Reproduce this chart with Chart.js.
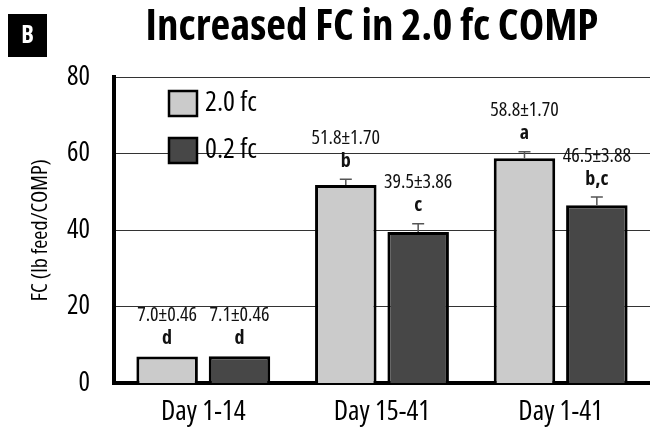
<!DOCTYPE html>
<html>
<head>
<meta charset="utf-8">
<script src="https://cdn.jsdelivr.net/npm/chart.js@4/dist/chart.umd.min.js"></script>
<style>
  html, body { margin: 0; padding: 0; background: #fff; }
  #wrap { width: 650px; height: 433px; }
</style>
</head>
<body>
<div id="wrap"><canvas id="fcChart"></canvas></div>
<script>
const periodos = ["Day 1-14", "Day 15-41", "Day 1-41"];
const fc20 = [7.0, 51.8, 58.8];
const fc02 = [7.1, 39.5, 46.5];
const sem20 = [0.46, 1.70, 1.70];
const sem02 = [0.46, 3.86, 3.88];
// error bars as they are drawn in the figure
const error20 = [0, 1.5, 1.7];
const error02 = [0, 2.2, 2.2];
const letras20 = ["d", "b", "a"];
const letras02 = ["d", "c", "b,c"];
const yTicks = [0, 20, 40, 60, 80];

const fuente = "'Open Sans', sans-serif";
const colorClaro = "#cbcbcb";
const colorOscuro = "#474747";

const sems = [sem20, sem02];
const errores = [error20, error02];
const letras = [letras20, letras02];

const anotaciones = {
  id: "anotaciones",
  afterDatasetsDraw(chart) {
    const ctx = chart.ctx;
    const y = chart.scales.y;
    chart.data.datasets.forEach((ds, i) => {
      chart.getDatasetMeta(i).data.forEach((bar, j) => {
        const err = errores[i][j];
        const yTop = y.getPixelForValue(ds.data[j] + err);
        ctx.save();
        if (err > 0) {
          ctx.strokeStyle = "#555";
          ctx.lineWidth = 1.5;
          ctx.beginPath();
          ctx.moveTo(bar.x, bar.y);
          ctx.lineTo(bar.x, yTop);
          ctx.moveTo(bar.x - 6, yTop);
          ctx.lineTo(bar.x + 6, yTop);
          ctx.stroke();
        }
        ctx.fillStyle = "#111";
        ctx.textAlign = "center";
        ctx.textBaseline = "middle";
        ctx.font = "bold condensed 20px " + fuente;
        ctx.fillText(letras[i][j], bar.x, yTop - 18);
        ctx.font = "condensed 20px " + fuente;
        ctx.fillText(ds.data[j].toFixed(1) + "\u00b1" + sems[i][j].toFixed(2), bar.x, yTop - 41);
        ctx.restore();
      });
    });
  },
  afterDraw(chart) {
    const ctx = chart.ctx;
    const area = chart.chartArea;
    ctx.save();
    // panel letter
    ctx.fillStyle = "#000";
    ctx.fillRect(8, 14, 39, 43);
    ctx.fillStyle = "#fff";
    ctx.font = "bold condensed 24px " + fuente;
    ctx.textAlign = "center";
    ctx.textBaseline = "middle";
    ctx.fillText("B", 27.5, 36);
    // title
    ctx.fillStyle = "#000";
    ctx.font = "bold condensed 43px " + fuente;
    ctx.fillText("Increased FC in 2.0 fc COMP", 372, 28);
    // y axis title
    ctx.save();
    ctx.translate(41, (area.top + area.bottom) / 2);
    ctx.rotate(-Math.PI / 2);
    ctx.font = "condensed 22px " + fuente;
    ctx.fillText("FC (lb feed/COMP)", 0, 0);
    ctx.restore();
    // legend
    const items = [["2.0 fc", colorClaro], ["0.2 fc", colorOscuro]];
    items.forEach(([txt, col], k) => {
      const by = 91 + k * 47;
      ctx.fillStyle = col;
      ctx.fillRect(169, by, 28, 25);
      ctx.strokeStyle = "#000";
      ctx.lineWidth = 2.5;
      ctx.strokeRect(169, by, 28, 25);
      ctx.fillStyle = "#000";
      ctx.font = "condensed 28px " + fuente;
      ctx.textAlign = "left";
      ctx.fillText(txt, 205, by + 12);
    });
    ctx.restore();
  }
};

new Chart(document.getElementById("fcChart"), {
  type: "bar",
  data: {
    labels: periodos,
    datasets: [
      { label: "2.0 fc", data: fc20, backgroundColor: colorClaro, borderColor: "#000", borderWidth: 3, borderSkipped: "bottom" },
      { label: "0.2 fc", data: fc02, backgroundColor: colorOscuro, borderColor: "#000", borderWidth: 3, borderSkipped: "bottom" }
    ]
  },
  options: {
    responsive: true,
    maintainAspectRatio: false,
    animation: false,
    devicePixelRatio: 1,
    categoryPercentage: 0.81,
    barPercentage: 0.85,
    layout: { padding: { top: 77, right: 0, left: 43, bottom: 0 } },
    plugins: {
      legend: { display: false },
      title: { display: false },
      tooltip: { enabled: false }
    },
    scales: {
      x: {
        grid: { display: false },
        border: { display: true, color: "#000", width: 4 },
        ticks: { color: "#000", font: { family: fuente, weight: "condensed", size: 28 }, padding: 4 }
      },
      y: {
        min: 0,
        max: 80,
        afterBuildTicks(axis) { axis.ticks = yTicks.map(v => ({ value: v })); },
        grid: { color: "#333", lineWidth: 1, drawTicks: false },
        border: { display: true, color: "#000", width: 4 },
        ticks: { color: "#000", font: { family: fuente, weight: "condensed", size: 27 }, padding: 24 }
      }
    }
  },
  plugins: [anotaciones]
});
</script>
</body>
</html>
